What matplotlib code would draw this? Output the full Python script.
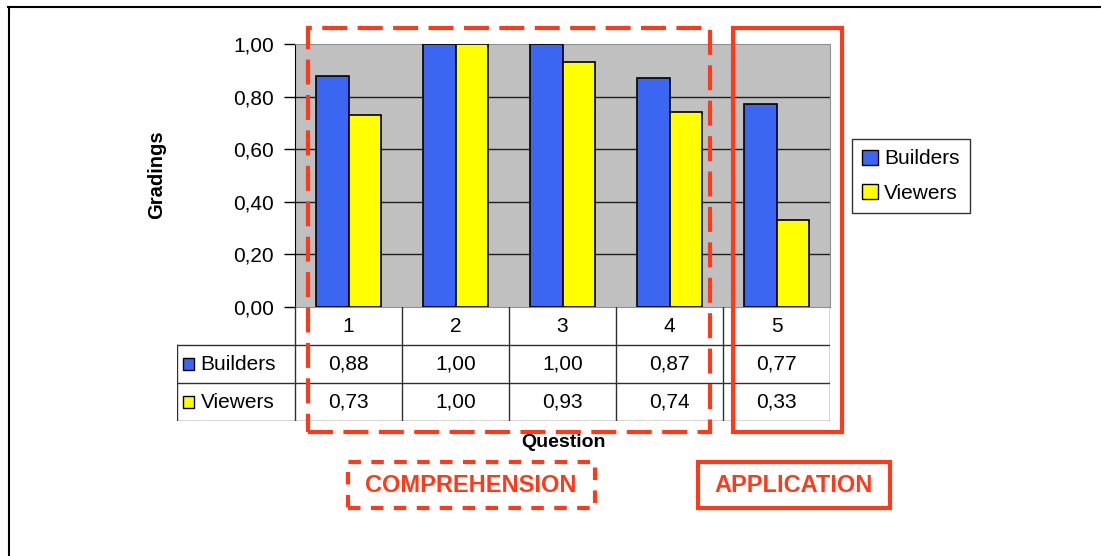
import numpy as np
import matplotlib.pyplot as plt
from matplotlib.patches import Rectangle
from matplotlib.lines import Line2D

questions = ["1", "2", "3", "4", "5"]
builders = [0.88, 1.00, 1.00, 0.87, 0.77]
viewers = [0.73, 1.00, 0.93, 0.74, 0.33]
series = ["Builders", "Viewers"]
colors = ["#3a66f2", "#ffff00"]
yticks = [0.0, 0.2, 0.4, 0.6, 0.8, 1.0]

plt.rcParams['font.family'] = ['Liberation Sans', 'DejaVu Sans']

W, H = 1101, 556
fig = plt.figure(figsize=(W / 100, H / 100), dpi=100)

def px(x0, y0, x1, y1):
    # pixel box (top-left origin) -> figure fraction rect
    return [x0 / W, 1 - y1 / H, (x1 - x0) / W, (y1 - y0) / H]

def comma(v):
    return f"{v:.2f}".replace(".", ",")

ax = fig.add_axes(px(295, 44, 830, 307))
ax.set_facecolor("#c0c0c0")
x = np.arange(len(questions))
bw = 0.3
ax.bar(x - bw / 2, builders, bw, color=colors[0], edgecolor="black", linewidth=1.2, zorder=3)
ax.bar(x + bw / 2, viewers, bw, color=colors[1], edgecolor="black", linewidth=1.2, zorder=3)
ax.set_xlim(-0.5, len(questions) - 0.5)
ax.set_ylim(0, 1.0)
ax.set_yticks(yticks)
ax.set_yticklabels([comma(v) for v in yticks], fontsize=15)
ax.set_xticks([])
for v in yticks[1:-1]:
    ax.axhline(v, color="#202020", linewidth=1.0, zorder=1)
for s in ["top", "right", "bottom"]:
    ax.spines[s].set_color("#909090")
ax.spines["left"].set_color("black")
ax.tick_params(axis="y", length=8, width=1, pad=7)
fig.text(157 / W, 1 - 175 / H, "Gradings", rotation=90, ha="center", va="center",
         fontsize=14.5, fontweight="bold")

# data table under the bars, sharing the category positions
tab = fig.add_axes(px(177, 307, 830, 421))
left = -0.5 - 118 / 107
tab.set_xlim(left, len(questions) - 0.5)
tab.set_ylim(0, 3)
tab.axis("off")
lc = "#303030"
for i in range(len(questions) + 1):
    tab.plot([i - 0.5, i - 0.5], [0, 3], color=lc, lw=1)
tab.plot([left, left], [0, 2], color=lc, lw=1)
for yy in [0, 1, 2]:
    tab.plot([left, len(questions) - 0.5], [yy, yy], color=lc, lw=1)
for i, q in enumerate(questions):
    tab.text(i, 2.5, q, ha="center", va="center", fontsize=15)
    tab.text(i, 1.5, comma(builders[i]), ha="center", va="center", fontsize=15)
    tab.text(i, 0.5, comma(viewers[i]), ha="center", va="center", fontsize=15)
for row, name, c in [(1.5, series[0], colors[0]), (0.5, series[1], colors[1])]:
    tab.add_patch(Rectangle((left + 0.06, row - 0.15), 0.1, 0.3, facecolor=c,
                            edgecolor="black", lw=1))
    tab.text(left + 0.22, row, name, ha="left", va="center", fontsize=15)
fig.text(563 / W, 1 - 434 / H, "Question", ha="center", va="top",
         fontsize=14, fontweight="bold")

# legend at the right
handles = [Rectangle((0, 0), 1, 1, facecolor=c, edgecolor="black", lw=1) for c in colors]
fig.legend(handles, series, loc="upper left", bbox_to_anchor=(852 / W, 1 - 139 / H),
           fontsize=15, frameon=True, fancybox=False, edgecolor="black",
           handlelength=0.75, handleheight=0.75, handletextpad=0.3, borderpad=0.5,
           labelspacing=0.75, borderaxespad=0)

red = "#ff3a1a"
# category group frames
fig.add_artist(Rectangle((308 / W, 1 - 432 / H), 402 / W, 404 / H, transform=fig.transFigure,
                         fill=False, edgecolor=red, lw=3, linestyle=(0, (6, 2.5)), zorder=10))
fig.add_artist(Rectangle((733 / W, 1 - 432 / H), 109 / W, 404 / H, transform=fig.transFigure,
                         fill=False, edgecolor=red, lw=3, zorder=10))
fig.add_artist(Rectangle((348 / W, 1 - 508 / H), 247 / W, 46 / H, transform=fig.transFigure,
                         fill=False, edgecolor=red, lw=3, linestyle=(0, (3, 2.5)), zorder=10))
fig.add_artist(Rectangle((698 / W, 1 - 508 / H), 192 / W, 46 / H, transform=fig.transFigure,
                         fill=False, edgecolor=red, lw=3, zorder=10))
fig.text(471 / W, 1 - 486 / H, "COMPREHENSION", ha="center", va="center", color=red,
         fontsize=17, fontweight="bold")
fig.text(794 / W, 1 - 486 / H, "APPLICATION", ha="center", va="center", color=red,
         fontsize=17, fontweight="bold")

# page frame lines
fig.add_artist(Line2D([8 / W, 1], [1 - 7 / H, 1 - 7 / H], transform=fig.transFigure,
                      color="black", lw=1.5))
fig.add_artist(Line2D([9 / W, 9 / W], [0, 1 - 7 / H], transform=fig.transFigure,
                      color="black", lw=1.5))

fig.savefig("out.png", dpi=100)
